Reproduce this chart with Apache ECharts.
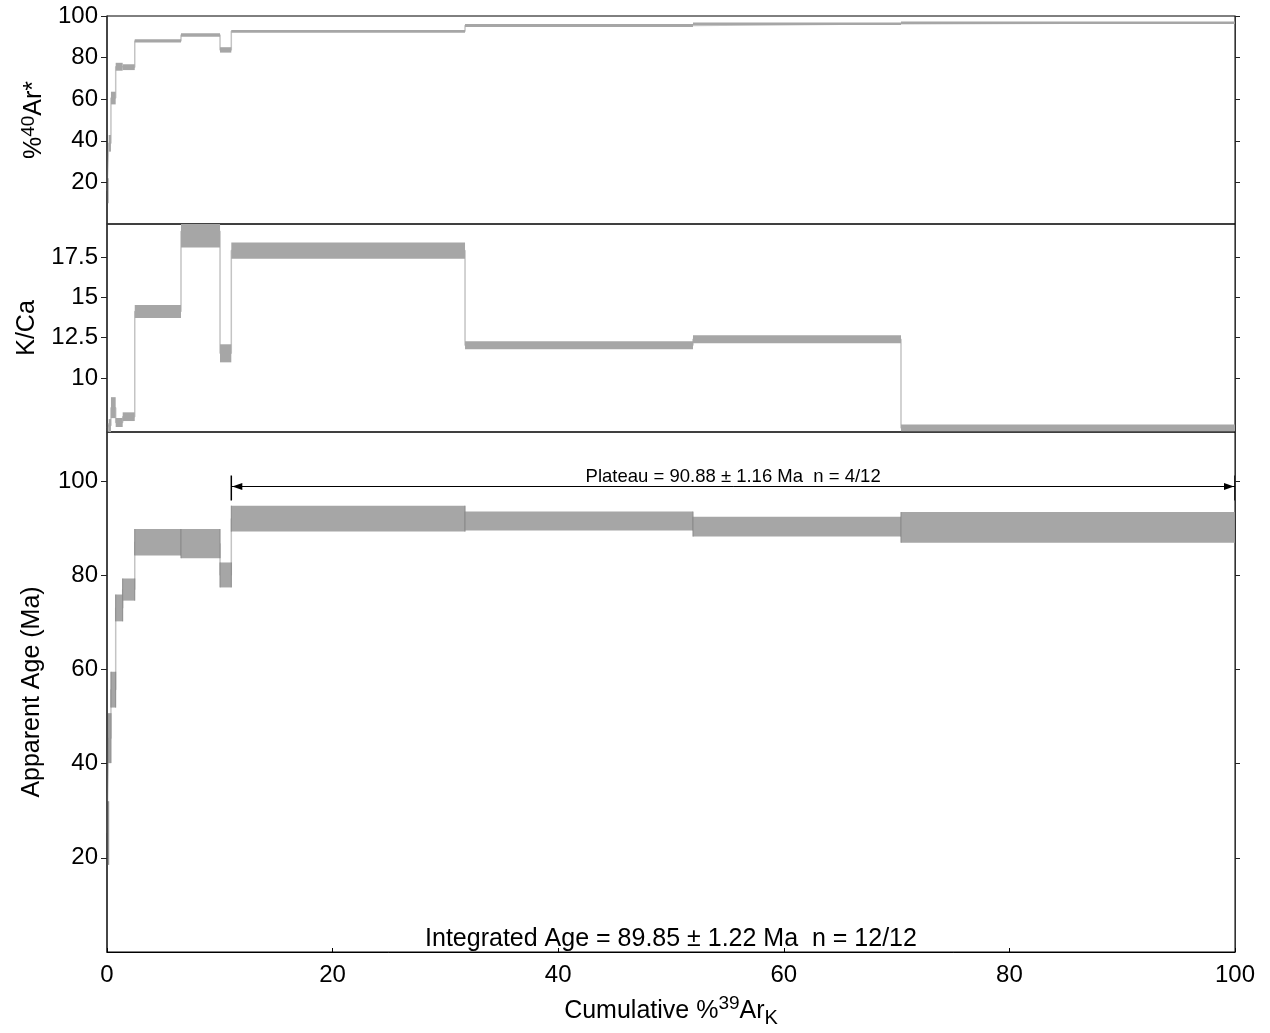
<!DOCTYPE html>
<html><head><meta charset="utf-8">
<script src="https://cdn.jsdelivr.net/npm/echarts@6/dist/echarts.min.js"></script>
<style>html,body{margin:0;padding:0;background:#fff}#c{width:1270px;height:1033px}</style>
</head><body><div id="c"></div>
<script>
// ---- data ----
const cumulative39Ar = [0, 0.15, 0.35, 0.77, 1.39, 2.46, 6.56, 10.02, 11.02, 31.74, 51.95, 70.39, 100];
const radiogenic40Ar    = [16, 38.8, 60.55, 75.6, 75.4, 88.0, 90.85, 83.7, 92.65, 95.45, 96.3, 96.75];
const radiogenic40ArErr = [6, 4.0, 3.05, 1.9, 1.4, 0.8, 0.85, 1.3, 0.65, 0.7, 0.6, 0.55];
const kCa    = [6.9, 7.05, 8.16, 7.24, 7.6, 14.12, 19.1, 11.53, 17.9, 12.03, 12.4, 6.9];
const kCaErr = [0.3, 0.4, 0.65, 0.28, 0.27, 0.4, 1.0, 0.56, 0.51, 0.25, 0.25, 0.21];
const apparentAge    = [25.25, 45.4, 55.7, 73.05, 76.95, 87.0, 86.7, 80.05, 92.0, 91.5, 90.3, 90.15];
const apparentAgeErr = [6.75, 5.3, 3.8, 2.85, 2.35, 2.8, 3.1, 2.65, 2.75, 2.0, 2.1, 3.25];
const xTickValues   = [0, 20, 40, 60, 80, 100];
const ar40Ticks     = [20, 40, 60, 80, 100];
const kCaTicks      = [10, 12.5, 15, 17.5];
const ageTicks      = [20, 40, 60, 80, 100];
const plateauFirstStep = 8;   // steps 9..12
const plateauLastStep  = 11;
const plateauLabel    = 'Plateau = 90.88 ± 1.16 Ma  n = 4/12';
const integratedLabel = 'Integrated Age = 89.85 ± 1.22 Ma  n = 12/12';

// ---- chart ----
const FONT = '"Liberation Sans", Arial, Helvetica, sans-serif';
const chart = echarts.init(document.getElementById('c'), null, {renderer: 'canvas'});

function boxData(vals, errs) {
  return vals.map((v, i) => [cumulative39Ar[i], cumulative39Ar[i + 1], v - errs[i], v + errs[i]]);
}
function stepData(vals) {
  const d = [];
  vals.forEach((v, i) => { d.push([cumulative39Ar[i], v]); d.push([cumulative39Ar[i + 1], v]); });
  return d;
}
function makeBoxRender(withEdges) {
  return function (params, api) {
    const a = api.coord([api.value(0), api.value(3)]);
    const b = api.coord([api.value(1), api.value(2)]);
    const cs = params.coordSys;
    const rect = echarts.graphic.clipRectByRect(
      {x: a[0], y: a[1], width: b[0] - a[0], height: b[1] - a[1]},
      {x: cs.x, y: cs.y, width: cs.width, height: cs.height});
    if (!rect) return;
    const children = [{type: 'rect', shape: rect, style: {fill: '#a6a6a6'}}];
    if (withEdges) {
      children.push({type: 'line', shape: {x1: rect.x, y1: rect.y, x2: rect.x, y2: rect.y + rect.height},
        style: {stroke: '#8a8a8a', lineWidth: 1}});
      children.push({type: 'line', shape: {x1: rect.x + rect.width, y1: rect.y, x2: rect.x + rect.width, y2: rect.y + rect.height},
        style: {stroke: '#8a8a8a', lineWidth: 1}});
    }
    return {type: 'group', children: children};
  };
}

const plateauTop = Math.max(...apparentAge.slice(plateauFirstStep, plateauLastStep + 1)
  .map((v, k) => v + apparentAgeErr[plateauFirstStep + k]));

function plateauRender(params, api) {
  const x0 = api.coord([api.value(0), 0])[0];
  const x1 = api.coord([api.value(1), 0])[0];
  const yTop = api.coord([0, api.value(2)])[1];
  const y = Math.round(yTop - 20) + 0.5;
  const ah = 10, aw = 3.5;
  return {type: 'group', children: [
    {type: 'line', shape: {x1: x0, y1: y, x2: x1, y2: y}, style: {stroke: '#000', lineWidth: 1}},
    {type: 'line', shape: {x1: x0, y1: y - 11, x2: x0, y2: y + 14}, style: {stroke: '#000', lineWidth: 1.5}},
    {type: 'line', shape: {x1: x1, y1: y - 11, x2: x1, y2: y + 14}, style: {stroke: '#000', lineWidth: 1.5}},
    {type: 'polygon', shape: {points: [[x0 + 1, y], [x0 + 1 + ah, y - aw], [x0 + 1 + ah, y + aw]]}, style: {fill: '#000'}},
    {type: 'polygon', shape: {points: [[x1 - 1, y], [x1 - 1 - ah, y - aw], [x1 - 1 - ah, y + aw]]}, style: {fill: '#000'}},
    {type: 'text', style: {text: plateauLabel, x: (x0 + x1) / 2, y: y - 0.5, align: 'center', verticalAlign: 'bottom',
      fontSize: 18.5, fontFamily: FONT, fill: '#000'}}
  ]};
}
function integratedRender(params, api) {
  const x0 = api.coord([api.value(0), 0])[0];
  const x1 = api.coord([api.value(1), 0])[0];
  const cs = params.coordSys;
  return {type: 'text', style: {text: integratedLabel, x: (x0 + x1) / 2, y: cs.y + cs.height,
    align: 'center', verticalAlign: 'bottom', fontSize: 25, fontFamily: FONT, fill: '#000'}};
}

const labelStyle = {fontSize: 24, color: '#000', fontFamily: FONT};
function nameRich(size) {
  return {
    a: {fontSize: size, fontFamily: FONT, color: '#000', lineHeight: 30},
    s: {fontSize: 19, fontFamily: FONT, color: '#000', lineHeight: 19, verticalAlign: 'top'},
    k: {fontSize: 19, fontFamily: FONT, color: '#000', lineHeight: 19, verticalAlign: 'bottom'}
  };
}
function hiddenX(gi) {
  return {gridIndex: gi, type: 'value', min: 0, max: 100, axisLine: {show: false}, axisTick: {show: false},
    axisLabel: {show: false}, splitLine: {show: false}};
}
function leftY(gi, min, max, ticks, name, gap) {
  return {gridIndex: gi, type: 'value', min: min, max: max, position: 'left', z: 5,
    axisLine: {show: true, lineStyle: {color: '#333', width: 1.5}},
    axisTick: {show: true, length: 6, customValues: ticks, lineStyle: {color: '#222', width: 1}},
    axisLabel: Object.assign({customValues: ticks, margin: 9}, labelStyle),
    splitLine: {show: false},
    name: name, nameLocation: 'middle', nameRotate: 90, nameGap: gap,
    nameTextStyle: {rich: nameRich(25)}};
}
function rightY(gi, min, max, ticks) {
  return {gridIndex: gi, type: 'value', min: min, max: max, position: 'right', z: 5,
    axisLine: {show: true, lineStyle: {color: '#333', width: 1}},
    axisTick: {show: true, length: 5, customValues: ticks, lineStyle: {color: '#222', width: 1}},
    axisLabel: {show: false}, splitLine: {show: false}};
}

const gridBase = {left: 107, right: 35, show: true, borderColor: '#000', borderWidth: 1, backgroundColor: 'transparent'};

const option = {
  backgroundColor: '#fff',
  animation: false,
  grid: [
    Object.assign({top: 16, height: 208}, gridBase),
    Object.assign({top: 224, height: 208}, gridBase),
    Object.assign({top: 432, height: 521.5}, gridBase)
  ],
  xAxis: [
    hiddenX(0), hiddenX(1),
    {gridIndex: 2, type: 'value', min: 0, max: 100, interval: 20, z: 5,
      axisLine: {show: true, lineStyle: {color: '#000', width: 1}},
      axisTick: {show: true, inside: true, length: 4, customValues: xTickValues, lineStyle: {color: '#000'}},
      axisLabel: Object.assign({customValues: xTickValues, margin: 11}, labelStyle),
      splitLine: {show: false},
      name: '{a|Cumulative %}{s|39}{a|Ar}{k|K}', nameLocation: 'middle', nameGap: 42,
      nameTextStyle: {rich: {
        a: {fontSize: 25, fontFamily: FONT, color: '#000', lineHeight: 34},
        s: {fontSize: 19, fontFamily: FONT, color: '#000', lineHeight: 19, verticalAlign: 'top'},
        k: {fontSize: 20, fontFamily: FONT, color: '#000', lineHeight: 20, verticalAlign: 'bottom'}
      }}}
  ],
  yAxis: [
    leftY(0, 0, 100, ar40Ticks, '{a|%}{s|40}{a|Ar*}', 58),
    leftY(1, 6.65, 19.55, kCaTicks, '{a|K/Ca}', 65),
    leftY(2, 0, 110.4, ageTicks, '{a|Apparent Age (Ma)}', 60),
    rightY(0, 0, 100, ar40Ticks),
    rightY(1, 6.65, 19.55, kCaTicks),
    rightY(2, 0, 110.4, ageTicks)
  ],
  series: [
    {type: 'line', xAxisIndex: 0, yAxisIndex: 0, data: stepData(radiogenic40Ar), symbol: 'none', z: 1,
      lineStyle: {color: '#c4c4c4', width: 1.5}, silent: true},
    {type: 'custom', xAxisIndex: 0, yAxisIndex: 0, data: boxData(radiogenic40Ar, radiogenic40ArErr),
      renderItem: makeBoxRender(false), z: 2, silent: true},
    {type: 'line', xAxisIndex: 1, yAxisIndex: 1, data: stepData(kCa), symbol: 'none', z: 1,
      lineStyle: {color: '#c4c4c4', width: 1.5}, silent: true},
    {type: 'custom', xAxisIndex: 1, yAxisIndex: 1, data: boxData(kCa, kCaErr),
      renderItem: makeBoxRender(false), z: 2, silent: true},
    {type: 'line', xAxisIndex: 2, yAxisIndex: 2, data: stepData(apparentAge), symbol: 'none', z: 1,
      lineStyle: {color: '#c4c4c4', width: 1.5}, silent: true},
    {type: 'custom', xAxisIndex: 2, yAxisIndex: 2, data: boxData(apparentAge, apparentAgeErr),
      renderItem: makeBoxRender(true), z: 2, silent: true},
    {type: 'custom', xAxisIndex: 2, yAxisIndex: 2, z: 3, silent: true,
      data: [[cumulative39Ar[plateauFirstStep], cumulative39Ar[plateauLastStep + 1], plateauTop]],
      renderItem: plateauRender},
    {type: 'custom', xAxisIndex: 2, yAxisIndex: 2, z: 3, silent: true,
      data: [[cumulative39Ar[0], cumulative39Ar[cumulative39Ar.length - 1]]],
      renderItem: integratedRender}
  ]
};
chart.setOption(option);
</script>
</body></html>
